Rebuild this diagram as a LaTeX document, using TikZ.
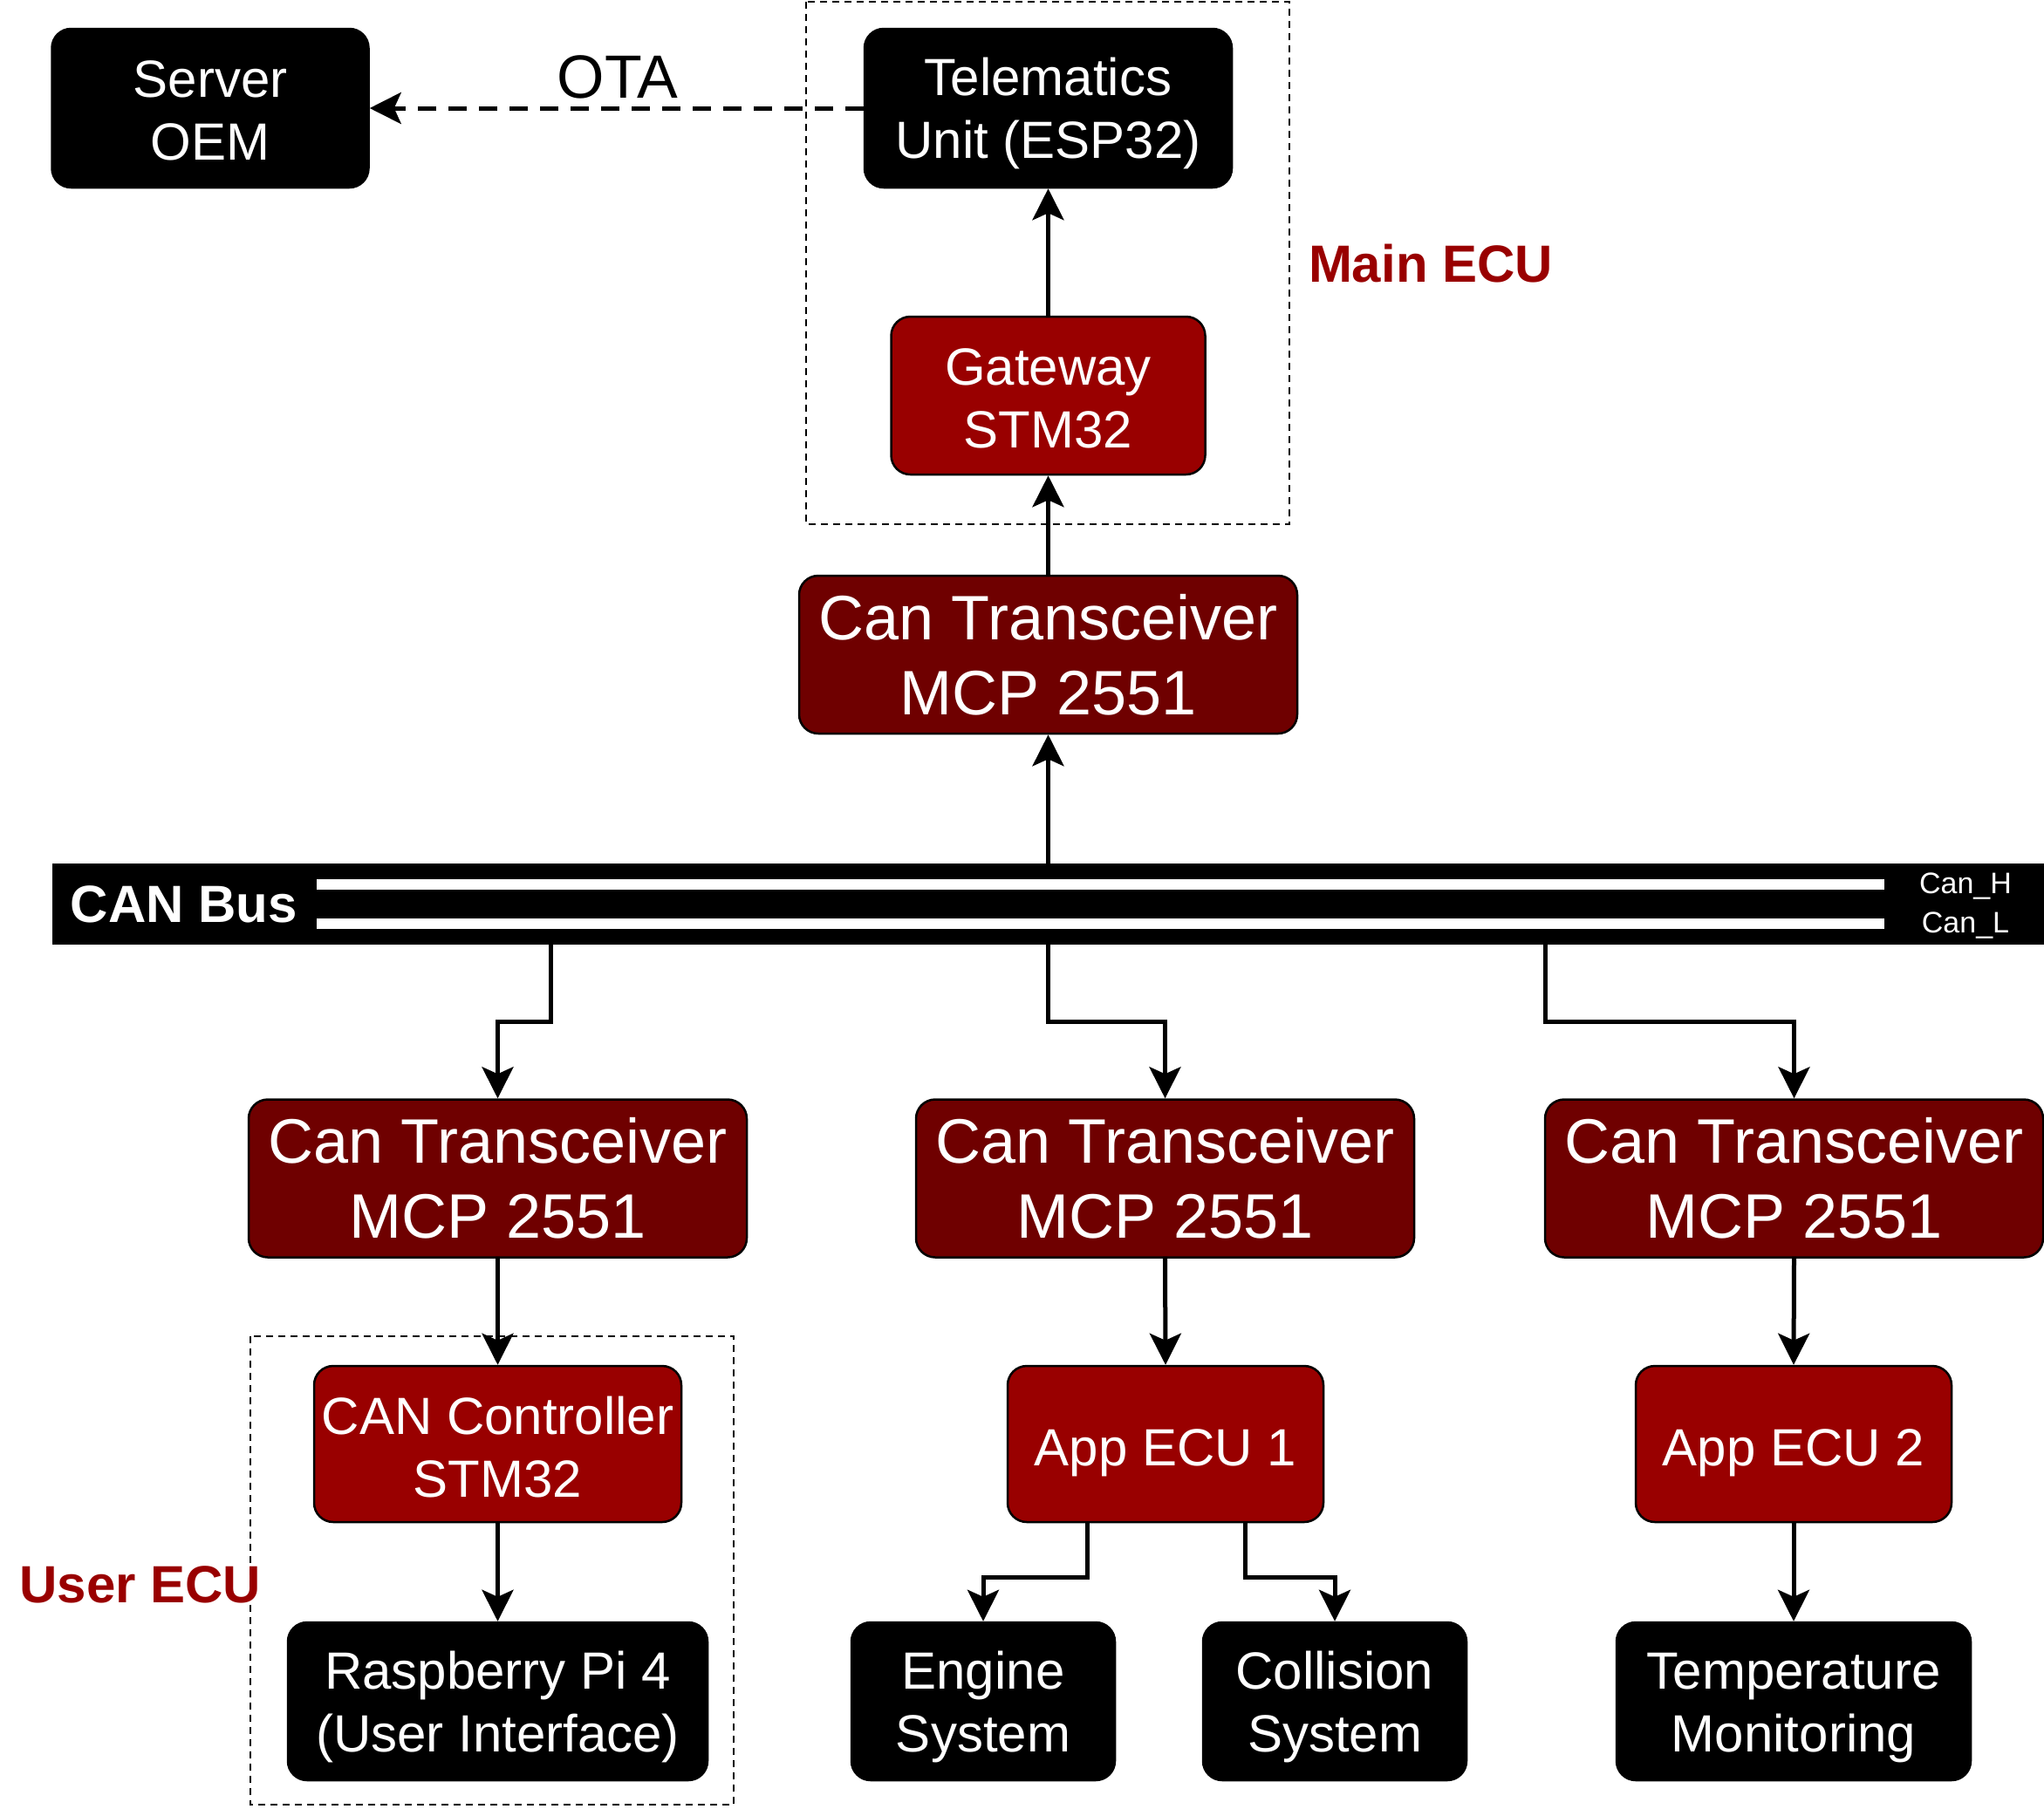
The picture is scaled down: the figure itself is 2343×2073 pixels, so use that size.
\documentclass[tikz,border=0pt]{standalone}
\usepackage{fontspec}
\setmainfont{Liberation Sans}
\usetikzlibrary{arrows.meta,calc}
\definecolor{ecured}{HTML}{990000}
\definecolor{trdark}{HTML}{6F0000}
\newcommand{\toppad}[1][28pt]{\rule{0pt}{#1}}
\begin{document}
\begin{tikzpicture}[x=0.5pt,y=-0.5pt,
  base/.style={draw=black, rounded corners=11pt, line width=1.25pt, text=white, align=center, inner sep=0pt,
    font=\fontsize{30}{36}\selectfont},
  blkbox/.style={base, fill=black},
  redbox/.style={base, fill=ecured},
  trbox/.style={draw=black, rounded corners=11pt, line width=1.25pt, text=white, align=center, inner sep=0pt,
    fill=trdark, minimum width=285.5pt, minimum height=90.5pt, font=\fontsize{36}{43}\selectfont},
  conn/.style={line width=2.5pt, -{Stealth[length=18pt,width=18pt,inset=4pt]}},
  otaline/.style={conn, dash pattern=on 10.5pt off 7pt},
  grp/.style={draw=black, line width=1pt, dash pattern=on 4pt off 3pt},
  grplabel/.style={text=ecured, font=\fontsize{30}{36}\selectfont\bfseries},
]
\useasboundingbox (0,0) rectangle (2343,2073);

% group frames
\draw[grp] (924,2) rectangle (1478,601);
\draw[grp] (287,1532) rectangle (841,2069);
\node[grplabel] (mainlbl) at (1640,302) {Main ECU};
\node[grplabel] (userlbl) at (161,1817) {User ECU};

% top nodes
\node[blkbox, minimum width=181.5pt, minimum height=91pt] (server) at (241,124) {\toppad[24pt]Server\\OEM};
\node[blkbox, minimum width=210.5pt, minimum height=91pt] (tele) at (1201.5,124) {\toppad Telematics\\Unit (ESP32)};
\node[redbox, minimum width=180pt, minimum height=90.5pt] (gw) at (1201.5,453.5) {\toppad[24pt]Gateway\\STM32};
\node[trbox] (tr0) at (1201.5,750.5) {Can Transceiver\\MCP 2551};

% CAN bus
\node[fill=black, minimum width=1141.5pt, minimum height=46.5pt, inner sep=0pt] (bus) at (1201.5,1036.5) {};
\fill[white] (363,1008) rectangle (2160,1020);
\fill[white] (363,1053) rectangle (2160,1065);
\node[text=white, font=\fontsize{30}{36}\selectfont\bfseries] (buslbl) at (211,1037) {CAN Bus};
\node[text=white, font=\fontsize{17}{20}\selectfont] (canh) at (2253,1016) {Can\_H};
\node[text=white, font=\fontsize{17}{20}\selectfont] (canl) at (2253,1061) {Can\_L};

% lower transceivers
\node[trbox] (tr1) at (570.5,1351) {Can Transceiver\\MCP 2551};
\node[trbox] (tr2) at (1335.5,1351) {Can Transceiver\\MCP 2551};
\node[trbox] (tr3) at (2056.5,1351) {Can Transceiver\\MCP 2551};

% ECUs
\node[redbox, minimum width=210.5pt, minimum height=89.5pt] (cc) at (570.5,1655.5) {\toppad[25pt]CAN Controller\\STM32};
\node[redbox, minimum width=181pt, minimum height=89.5pt] (app1) at (1336,1655.5) {\toppad[31pt]App ECU 1};
\node[redbox, minimum width=181pt, minimum height=89.5pt] (app2) at (2056,1655.5) {\toppad[31pt]App ECU 2};

% leaves
\node[blkbox, minimum width=240.5pt, minimum height=90.5pt] (rpi) at (570.5,1950.5) {\toppad Raspberry Pi 4\\(User Interface)};
\node[blkbox, minimum width=151pt, minimum height=90.5pt] (eng) at (1127,1950.5) {\toppad Engine\\System};
\node[blkbox, minimum width=151pt, minimum height=90.5pt] (col) at (1530,1950.5) {\toppad Collision\\System};
\node[blkbox, minimum width=203pt, minimum height=90.5pt] (temp) at (2056,1950.5) {\toppad Temperature\\Monitoring};

% helper x positions
\coordinate (b1x) at (631,0);
\coordinate (b3x) at (1771,0);
\coordinate (e1x) at (1246,0);
\coordinate (e2x) at (1427,0);

% connectors
\draw[otaline] (tele.west) -- (server.east);
\node[font=\fontsize{35}{40}\selectfont] (ota) at (708,88) {OTA};
\draw[conn] (gw.north) -- (tele.south);
\draw[conn] (tr0.north) -- (gw.south);
\draw[conn] (bus.north -| tr0.center) -- (tr0.south);

\draw[conn] (bus.south -| b1x) -- ++(0,88) -| (tr1.north);
\draw[conn] (bus.south -| tr0.center) -- ++(0,88) -| (tr2.north);
\draw[conn] (bus.south -| b3x) -- ++(0,88) -| (tr3.north);

\draw[conn] (tr1.south) -- (cc.north);
\draw[conn] (tr2.south) -- (app1.north);
\draw[conn] (tr3.south) -- (app2.north);
\draw[conn] (cc.south) -- (rpi.north);
\draw[conn] (app2.south) -- (temp.north);
\draw[conn] (app1.south -| e1x) -- ++(0,62) -| (eng.north);
\draw[conn] (app1.south -| e2x) -- ++(0,62) -| (col.north);
\end{tikzpicture}
\end{document}
